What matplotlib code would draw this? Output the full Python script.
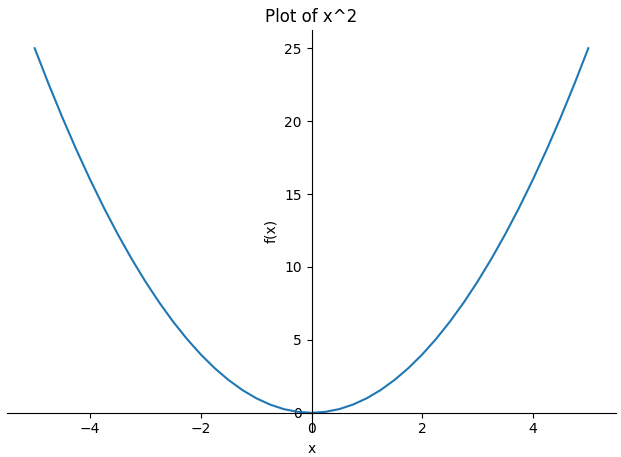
import matplotlib
matplotlib.use("Agg")
import matplotlib.pyplot as plt

x_vals = [-5.0, -4.75, -4.5, -4.25, -4.0, -3.75, -3.5, -3.25, -3.0, -2.75, -2.5, -2.25, -2.0, -1.75, -1.5, -1.25, -1.0, -0.75, -0.5, -0.25, 0.0,
          0.25, 0.5, 0.75, 1.0, 1.25, 1.5, 1.75, 2.0, 2.25, 2.5, 2.75, 3.0, 3.25, 3.5, 3.75, 4.0, 4.25, 4.5, 4.75, 5.0]
y_vals = [25.0, 22.5625, 20.25, 18.0625, 16.0, 14.0625, 12.25, 10.5625, 9.0, 7.5625, 6.25, 5.0625, 4.0, 3.0625, 2.25, 1.5625, 1.0, 0.5625, 0.25, 0.0625, 0.0,
          0.0625, 0.25, 0.5625, 1.0, 1.5625, 2.25, 3.0625, 4.0, 5.0625, 6.25, 7.5625, 9.0, 10.5625, 12.25, 14.0625, 16.0, 18.0625, 20.25, 22.5625, 25.0]

fig = plt.figure(figsize=(6.21, 4.57), dpi=100)
ax = fig.add_axes([7/621, 26/457, 609/621, 401/457])
ax.plot(x_vals, y_vals, color="#1f77b4", lw=1.5)
ax.spines["left"].set_position("zero")
ax.spines["bottom"].set_position("zero")
ax.spines["right"].set_visible(False)
ax.spines["top"].set_visible(False)
ax.set_xlim(-5.5, 5.5)
ax.set_ylim(-1.25, 26.25)
ax.set_title("Plot of x^2")
ax.set_xlabel("x")
ax.set_ylabel("f(x)")
fig.savefig("out.png", dpi=100)
